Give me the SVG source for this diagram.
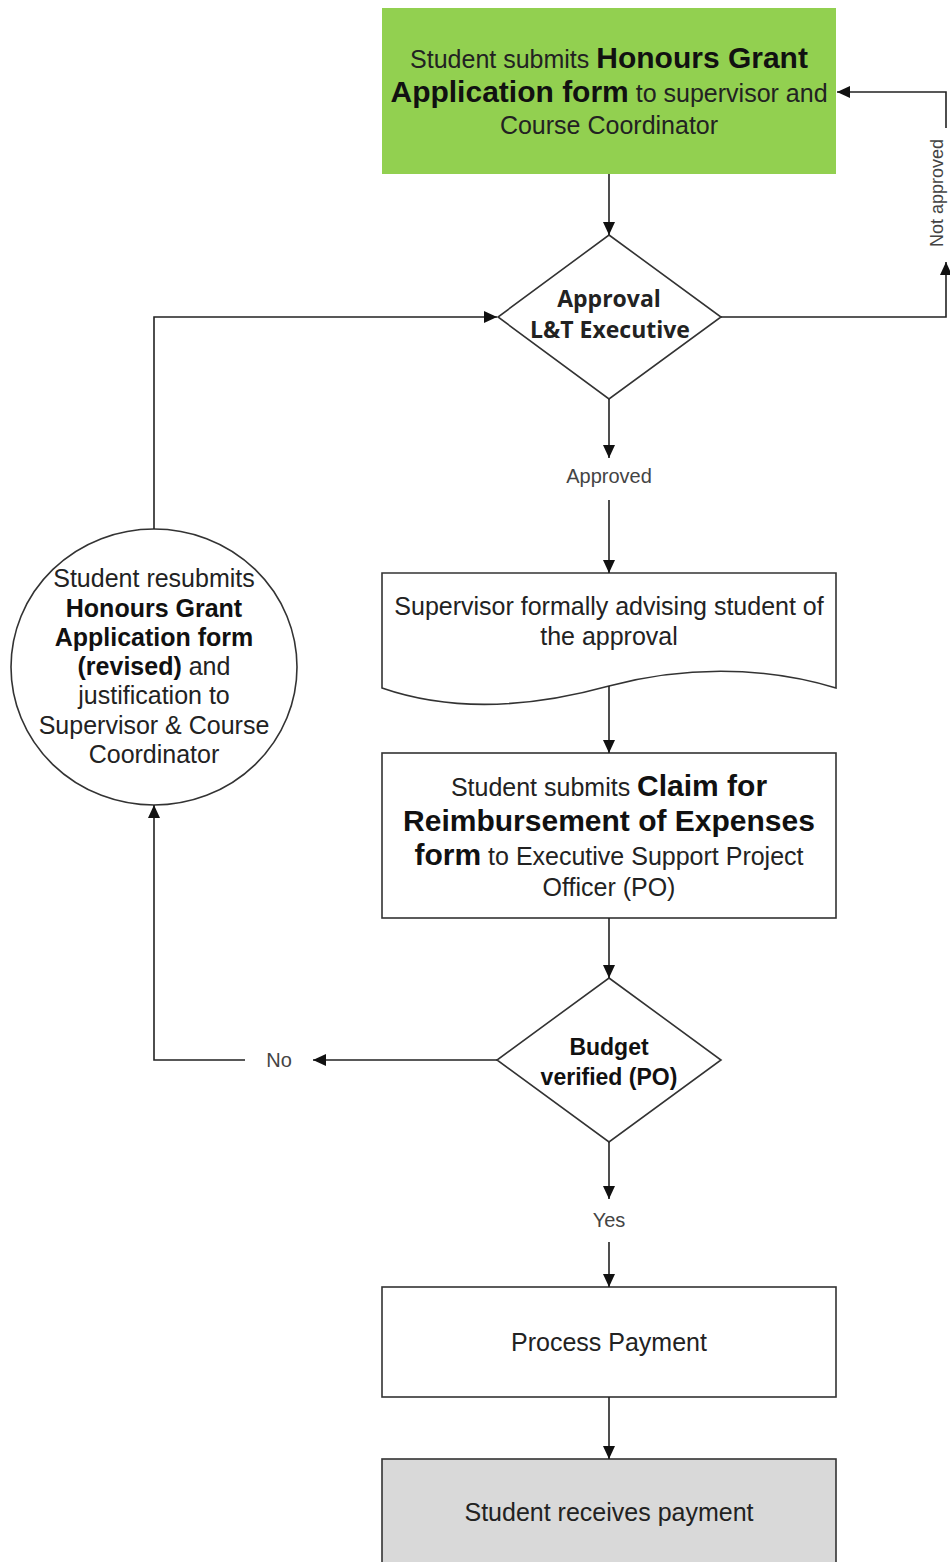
<svg xmlns="http://www.w3.org/2000/svg" width="950" height="1562" viewBox="0 0 950 1562">
<defs>
<marker id="ah" markerWidth="14" markerHeight="14" refX="13" refY="7" orient="auto" markerUnits="userSpaceOnUse">
<path d="M0,1 L13,7 L0,13 Z" fill="#111"/>
</marker>
<style>
.shape{fill:#fff;stroke:#333;stroke-width:1.6}
.t{font-family:"Liberation Sans",Arial,sans-serif;font-size:25px;fill:#222;text-anchor:middle}
.b{font-weight:bold;font-size:30px;fill:#111}
.cb{font-weight:bold;fill:#111}
.lbl{font-family:"Liberation Sans",Arial,sans-serif;font-size:20px;fill:#444;text-anchor:middle}
.conn path{fill:none;stroke:#222;stroke-width:1.6}
</style>
</defs>
<rect width="950" height="1562" fill="#fff"/>

<g id="n_submit">
<rect x="382" y="8" width="454" height="166" fill="#92d050"/>
<text class="t" fill="#1c2a10"><tspan x="609" y="68">Student submits <tspan class="b">Honours Grant</tspan></tspan><tspan x="609" y="102"><tspan class="b">Application form</tspan> to supervisor and</tspan><tspan x="609" y="134">Course Coordinator</tspan></text>
</g>

<g id="n_approval">
<polygon class="shape" points="609,235 721,317 609,399 498,317"/>
<text style="font-family:'Open Sans','DejaVu Sans',sans-serif;font-weight:bold;font-size:23px;fill:#222;text-anchor:middle"><tspan x="609" y="307">Approval</tspan><tspan x="610" y="338">L&amp;T Executive</tspan></text>
</g>

<g id="n_advise">
<path class="shape" d="M382,573 H836 V688 C760,665 680,667 609,686 C540,705 460,715 382,688 Z"/>
<text class="t"><tspan x="609" y="615">Supervisor formally advising student of</tspan><tspan x="609" y="645">the approval</tspan></text>
</g>

<g id="n_claim">
<rect class="shape" x="382" y="753" width="454" height="165"/>
<text class="t"><tspan x="609" y="796">Student submits <tspan class="b">Claim for</tspan></tspan><tspan x="609" y="831" class="b">Reimbursement of Expenses</tspan><tspan x="609" y="865"><tspan class="b">form</tspan> to Executive Support Project</tspan><tspan x="609" y="896">Officer (PO)</tspan></text>
</g>

<g id="n_budget">
<polygon class="shape" points="609,978 721,1060 609,1142 497,1060"/>
<text class="t" style="font-weight:bold;font-size:23px;fill:#111"><tspan x="609" y="1055">Budget</tspan><tspan x="609" y="1085">verified (PO)</tspan></text>
</g>

<g id="n_resubmit">
<ellipse class="shape" cx="154" cy="667" rx="143" ry="138"/>
<text class="t"><tspan x="154" y="587">Student resubmits</tspan><tspan x="154" y="617" class="cb">Honours Grant</tspan><tspan x="154" y="646" class="cb">Application form</tspan><tspan x="154" y="675"><tspan class="cb">(revised)</tspan> and</tspan><tspan x="154" y="704">justification to</tspan><tspan x="154" y="734">Supervisor &amp; Course</tspan><tspan x="154" y="763">Coordinator</tspan></text>
</g>

<g id="n_process">
<rect class="shape" x="382" y="1287" width="454" height="110"/>
<text class="t" x="609" y="1351">Process Payment</text>
</g>

<g id="n_receive">
<rect class="shape" x="382" y="1459" width="454" height="115" style="fill:#d9d9d9"/>
<text class="t" x="609" y="1521">Student receives payment</text>
</g>

<g id="connectors" class="conn">
<path d="M609,174 V235" marker-end="url(#ah)"/>
<path d="M721,317 H946 V262" marker-end="url(#ah)"/>
<path d="M946,128 V92 H837" marker-end="url(#ah)"/>
<path d="M609,399 V458" marker-end="url(#ah)"/>
<path d="M609,500 V573" marker-end="url(#ah)"/>
<path d="M609,686 V753" marker-end="url(#ah)"/>
<path d="M609,918 V978" marker-end="url(#ah)"/>
<path d="M497,1060 H313" marker-end="url(#ah)"/>
<path d="M245,1060 H154 V805" marker-end="url(#ah)"/>
<path d="M154,529 V317 H497" marker-end="url(#ah)"/>
<path d="M609,1142 V1199" marker-end="url(#ah)"/>
<path d="M609,1242 V1287" marker-end="url(#ah)"/>
<path d="M609,1397 V1459" marker-end="url(#ah)"/>
</g>

<g id="labels">
<text class="lbl" x="609" y="483">Approved</text>
<text class="lbl" x="609" y="1227">Yes</text>
<text class="lbl" x="279" y="1067">No</text>
<text class="lbl" style="font-size:18px" transform="translate(943,193) rotate(-90)" x="0" y="0">Not approved</text>
</g>
</svg>
